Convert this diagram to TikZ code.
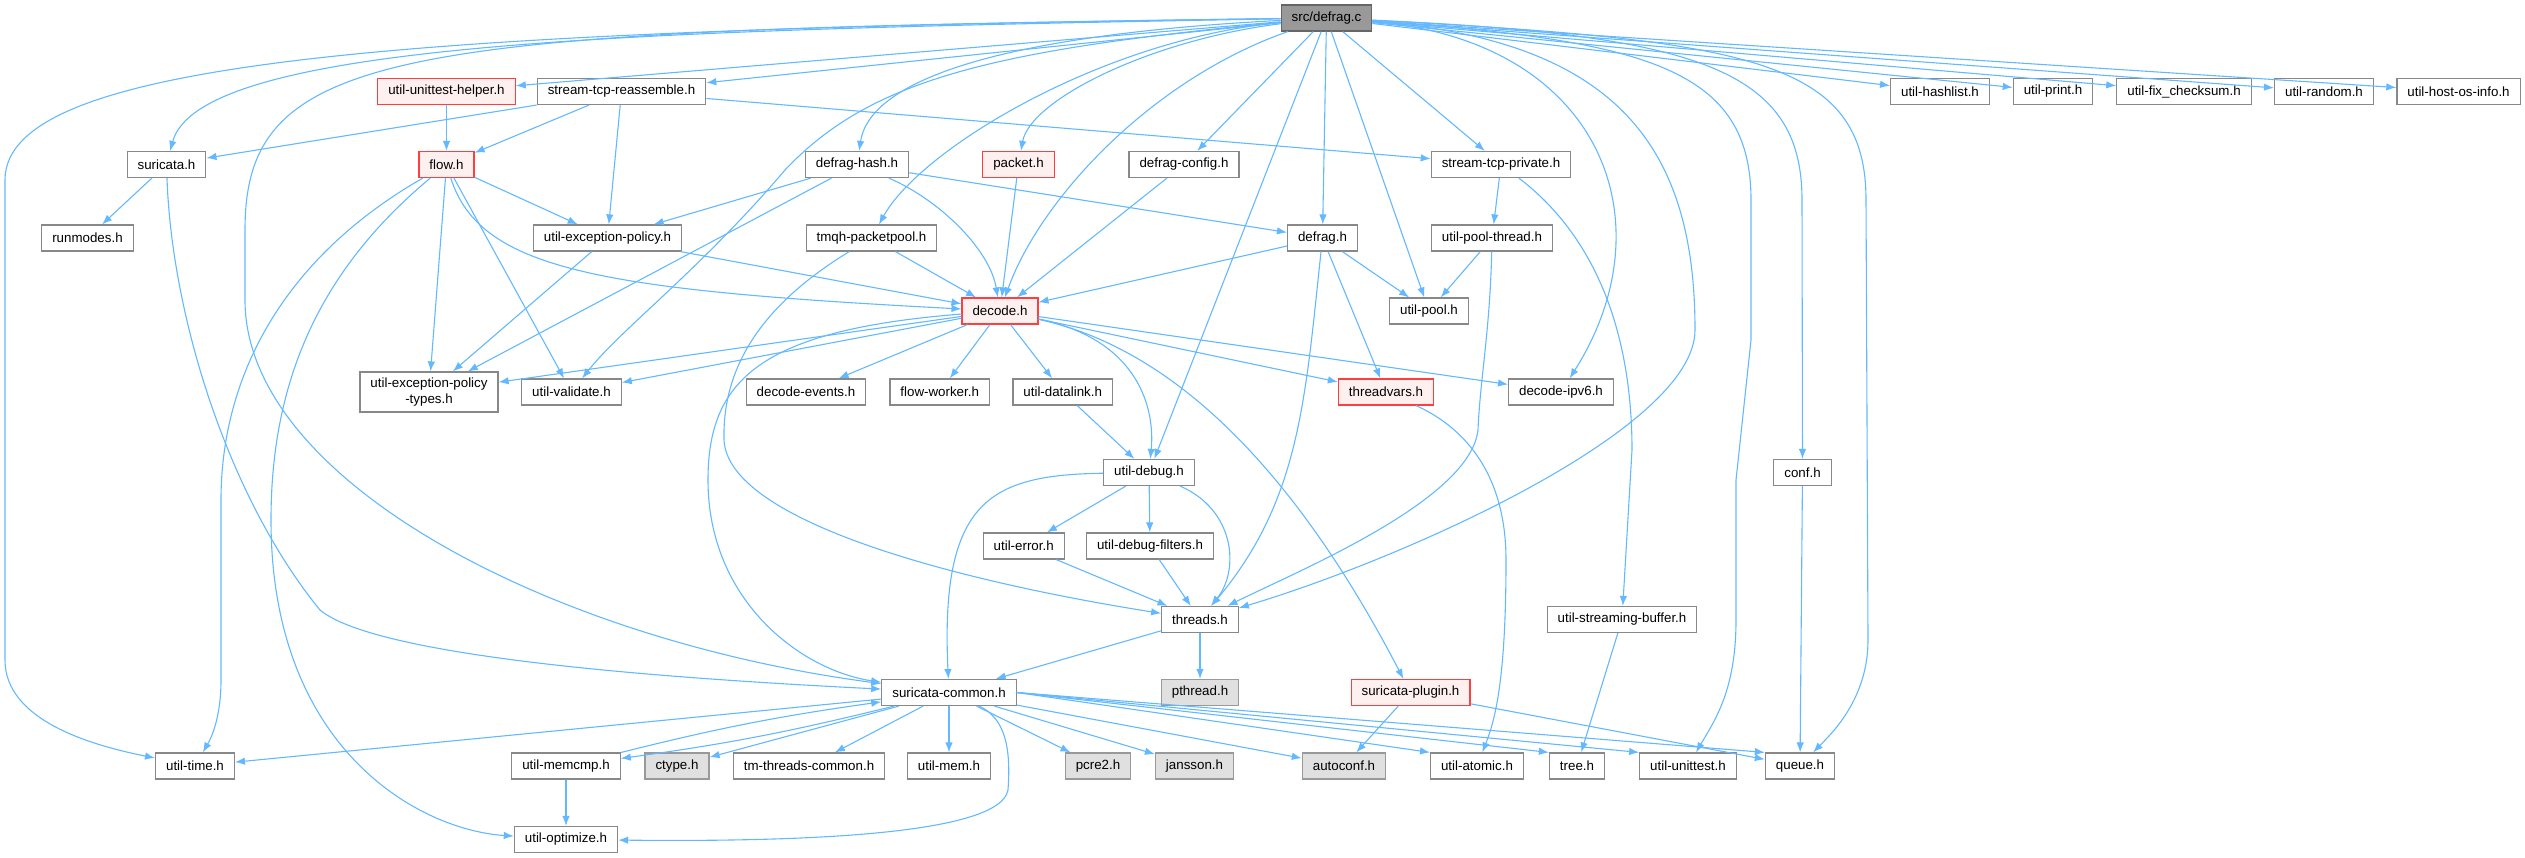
\documentclass[tikz,border=0pt]{standalone}
\usepackage{fontspec}
\setmainfont{Liberation Sans}
\usetikzlibrary{arrows.meta}
\definecolor{edgeblue}{HTML}{63B8FF}
\definecolor{boxgray}{HTML}{888888}
\definecolor{rootfill}{HTML}{999999}
\definecolor{rootline}{HTML}{666666}
\definecolor{truncfill}{HTML}{FFF0F0}
\definecolor{truncline}{HTML}{FF3F3F}
\definecolor{sysfill}{HTML}{E0E0E0}
\definecolor{sysline}{HTML}{999999}
\begin{document}
\begin{tikzpicture}[x=1pt,y=-1pt,
    hdr/.style={draw=boxgray,fill=white,line width=1.2pt,inner xsep=10.5pt,inner ysep=0pt,minimum height=26pt,font=\fontsize{13.33}{15.5}\selectfont},
    rootfile/.style={hdr,draw=rootline,fill=rootfill},
    trunc/.style={hdr,draw=truncline,fill=truncfill},
    sys/.style={hdr,draw=sysline,fill=sysfill},
    dep/.style={draw=edgeblue,line width=1.1pt,-{Latex[length=10pt,width=7.5pt]}}]
        \useasboundingbox (0,0) rectangle (2525,857);

        \node[rootfile] (defragc) at (1326.5,18) {src/defrag.c};
        \node[trunc] (unittesthelper) at (446.5,91.5) {util-unittest-helper.h};
        \node[hdr] (tcpreassemble) at (621.5,91.5) {stream-tcp-reassemble.h};
        \node[hdr] (hashlist) at (1940,91.5) {util-hashlist.h};
        \node[hdr] (print) at (2053,91.5) {util-print.h};
        \node[hdr] (fixchecksum) at (2184,91.5) {util-fix\_checksum.h};
        \node[hdr] (random) at (2324,91.5) {util-random.h};
        \node[hdr] (hostosinfo) at (2458.5,91.5) {util-host-os-info.h};
        \node[hdr] (suricata) at (166.5,164.5) {suricata.h};
        \node[trunc] (flow) at (446.5,164.5) {flow.h};
        \node[hdr] (defraghash) at (857,164.5) {defrag-hash.h};
        \node[trunc] (packet) at (1018.5,164.5) {packet.h};
        \node[hdr] (defragconfig) at (1184,164.5) {defrag-config.h};
        \node[hdr] (tcpprivate) at (1501,164.5) {stream-tcp-private.h};
        \node[hdr] (runmodes) at (87.5,238) {runmodes.h};
        \node[hdr] (excpolicy) at (607.5,238) {util-exception-policy.h};
        \node[hdr] (packetpool) at (871.5,238) {tmqh-packetpool.h};
        \node[hdr] (defragh) at (1322.5,238) {defrag.h};
        \node[hdr] (poolthread) at (1492,238) {util-pool-thread.h};
        \node[trunc] (decode) at (1000,311) {decode.h};
        \node[hdr] (pool) at (1429,311) {util-pool.h};
        \node[hdr,align=center,minimum height=40pt] (excpolicytypes) at (429,392) {util-exception-policy\\-types.h};
        \node[hdr] (validate) at (571.5,392) {util-validate.h};
        \node[hdr] (decodeevents) at (806,392) {decode-events.h};
        \node[hdr] (flowworker) at (939.7,392) {flow-worker.h};
        \node[hdr] (datalink) at (1062.7,392) {util-datalink.h};
        \node[trunc] (threadvars) at (1386,392) {threadvars.h};
        \node[hdr] (decodeipv6) at (1561,392) {decode-ipv6.h};
        \node[hdr] (debug) at (1149,472.5) {util-debug.h};
        \node[hdr] (conf) at (1802.5,472.5) {conf.h};
        \node[hdr] (error) at (1023.7,546) {util-error.h};
        \node[hdr] (debugfilters) at (1150,546) {util-debug-filters.h};
        \node[hdr] (threads) at (1200,619.5) {threads.h};
        \node[hdr] (streambuf) at (1622,619.5) {util-streaming-buffer.h};
        \node[hdr] (common) at (949,692.5) {suricata-common.h};
        \node[sys] (pthread) at (1200,692.5) {pthread.h};
        \node[trunc] (plugin) at (1410.5,692.5) {suricata-plugin.h};
        \node[hdr] (utime) at (195,766) {util-time.h};
        \node[hdr] (memcmp) at (566,766) {util-memcmp.h};
        \node[sys] (ctype) at (677,766) {ctype.h};
        \node[hdr] (tmcommon) at (809,766) {tm-threads-common.h};
        \node[hdr] (mem) at (949,766) {util-mem.h};
        \node[sys] (pcre) at (1098,766) {pcre2.h};
        \node[sys] (jansson) at (1194.5,766) {jansson.h};
        \node[sys] (autoconf) at (1344,766) {autoconf.h};
        \node[hdr] (atomic) at (1477,766) {util-atomic.h};
        \node[hdr] (tree) at (1577,766) {tree.h};
        \node[hdr] (unittest) at (1688,766) {util-unittest.h};
        \node[hdr] (queue) at (1800,766) {queue.h};
        \node[hdr] (optimize) at (566,839.5) {util-optimize.h};

        % includes of src/defrag.c
        \path[draw,dep] (defragc) -- (unittesthelper);
        \path[draw,dep] (defragc) -- (tcpreassemble);
        \path[draw,dep] (defragc) .. controls (650,30) and (200,40) .. (suricata);
        \path[draw,dep] (defragc) .. controls (400,30) and (5,60) .. (5,180) -- (5,660) .. controls (5,720) and (90,745) .. (utime);
        \path[draw,dep] (defragc) .. controls (400,30) and (245,45) .. (245,230) -- (245,300) .. controls (245,480) and (550,640) .. (common);
        \path[draw,dep] (defragc) .. controls (990,50) and (870,80) .. (785,170) .. controls (700,270) and (620,330) .. (validate);
        \path[draw,dep] (defragc) .. controls (1000,35) and (870,80) .. (defraghash);
        \path[draw,dep] (defragc) .. controls (1100,40) and (920,150) .. (packetpool);
        \path[draw,dep] (defragc) .. controls (1150,40) and (1030,100) .. (packet);
        \path[draw,dep] (defragc) .. controls (1150,80) and (1040,200) .. (decode);
        \path[draw,dep] (defragc) -- (defragconfig);
        \path[draw,dep] (defragc) -- (defragh);
        \path[draw,dep] (defragc) -- (debug);
        \path[draw,dep] (defragc) -- (pool);
        \path[draw,dep] (defragc) -- (tcpprivate);
        \path[draw,dep] (defragc) .. controls (1620,40) and (1695,150) .. (1695,330) .. controls (1695,430) and (1400,560) .. (threads);
        \path[draw,dep] (defragc) .. controls (1600,40) and (1670,220) .. (decodeipv6);
        \path[draw,dep] (defragc) .. controls (1650,40) and (1751,70) .. (1751,200) -- (1751,340) -- (1736,480) -- (1736,620) .. controls (1736,690) and (1715,720) .. (unittest);
        \path[draw,dep] (defragc) .. controls (1700,35) and (1802,70) .. (1802,200) -- (conf);
        \path[draw,dep] (defragc) .. controls (1750,40) and (1866,60) .. (1866,200) -- (1868,640) .. controls (1868,700) and (1830,735) .. (queue);
        \path[draw,dep] (defragc) -- (hashlist);
        \path[draw,dep] (defragc) -- (print);
        \path[draw,dep] (defragc) -- (fixchecksum);
        \path[draw,dep] (defragc) -- (random);
        \path[draw,dep] (defragc) -- (hostosinfo);

        \path[draw,dep] (unittesthelper) -- (flow);
        \path[draw,dep] (tcpreassemble) -- (suricata);
        \path[draw,dep] (tcpreassemble) -- (flow);
        \path[draw,dep] (tcpreassemble) -- (excpolicy);
        \path[draw,dep] (tcpreassemble) -- (tcpprivate);
        \path[draw,dep] (suricata) -- (runmodes);
        \path[draw,dep] (suricata) .. controls (172,320) and (230,500) .. (320,610) .. controls (380,660) and (700,680) .. (common);

        \path[draw,dep] (flow) -- (excpolicy);
        \path[draw,dep] (flow) .. controls (480,270) and (600,290) .. (decode);
        \path[draw,dep] (flow) -- (excpolicytypes);
        \path[draw,dep] (flow) -- (validate);
        \path[draw,dep] (flow) .. controls (280,260) and (221,380) .. (221,500) -- (221,680) .. controls (221,720) and (210,740) .. (utime);
        \path[draw,dep] (flow) .. controls (320,270) and (271,380) .. (271,520) .. controls (271,750) and (420,830) .. (optimize);
        \path[draw,dep] (excpolicy) -- (excpolicytypes);
        \path[draw,dep] (excpolicy) -- (decode);

        \path[draw,dep] (defraghash) -- (excpolicy);
        \path[draw,dep] (defraghash) -- (excpolicytypes);
        \path[draw,dep] (defraghash) .. controls (940,200) and (990,250) .. (decode);
        \path[draw,dep] (defraghash) -- (defragh);
        \path[draw,dep] (packetpool) -- (decode);
        \path[draw,dep] (packetpool) .. controls (770,300) and (722,360) .. (724,440) .. controls (728,520) and (950,580) .. (threads);
        \path[draw,dep] (packet) -- (decode);
        \path[draw,dep] (defragconfig) -- (decode);
        \path[draw,dep] (defragh) -- (decode);
        \path[draw,dep] (defragh) -- (pool);
        \path[draw,dep] (defragh) -- (threadvars);
        \path[draw,dep] (defragh) .. controls (1305,400) and (1300,500) .. (threads);
        \path[draw,dep] (tcpprivate) -- (poolthread);
        \path[draw,dep] (tcpprivate) .. controls (1600,240) and (1632,340) .. (1632,450) -- (streambuf);
        \path[draw,dep] (poolthread) -- (pool);
        \path[draw,dep] (poolthread) .. controls (1490,330) and (1480,380) .. (1478,430) .. controls (1470,500) and (1300,570) .. (threads);

        % includes of decode.h
        \path[draw,dep] (decode) -- (excpolicytypes);
        \path[draw,dep] (decode) -- (validate);
        \path[draw,dep] (decode) -- (decodeevents);
        \path[draw,dep] (decode) -- (flowworker);
        \path[draw,dep] (decode) -- (datalink);
        \path[draw,dep] (decode) .. controls (1140,340) and (1155,410) .. (debug);
        \path[draw,dep] (decode) -- (threadvars);
        \path[draw,dep] (decode) -- (decodeipv6);
        \path[draw,dep] (decode) .. controls (1180,350) and (1300,480) .. (plugin);
        \path[draw,dep] (decode) .. controls (760,330) and (708,380) .. (708,480) .. controls (708,600) and (800,670) .. (common);

        \path[draw,dep] (datalink) -- (debug);
        \path[draw,dep] (debug) .. controls (990,475) and (940,500) .. (common);
        \path[draw,dep] (debug) -- (error);
        \path[draw,dep] (debug) -- (debugfilters);
        \path[draw,dep] (debug) .. controls (1235,510) and (1240,570) .. (threads);
        \path[draw,dep] (error) -- (threads);
        \path[draw,dep] (debugfilters) -- (threads);
        \path[draw,dep] (threadvars) .. controls (1470,430) and (1506,480) .. (1506,560) .. controls (1506,680) and (1495,720) .. (atomic);
        \path[draw,dep] (conf) -- (queue);
        \path[draw,dep] (streambuf) -- (tree);
        \path[draw,dep] (threads) -- (common);
        \path[draw,dep] (threads) -- (pthread);
        \path[draw,dep] (plugin) -- (autoconf);
        \path[draw,dep] (plugin) -- (queue);

        % includes of suricata-common.h
        \path[draw,dep] (common) -- (utime);
        \path[draw,dep] (common) to[bend left=3] (memcmp);
        \path[draw,dep] (memcmp) to[bend left=3] (common);
        \path[draw,dep] (common) -- (ctype);
        \path[draw,dep] (common) -- (tmcommon);
        \path[draw,dep] (common) -- (mem);
        \path[draw,dep] (common) -- (pcre);
        \path[draw,dep] (common) -- (jansson);
        \path[draw,dep] (common) -- (autoconf);
        \path[draw,dep] (common.east) -- (atomic.north west);
        \path[draw,dep] (common.east) -- (tree.north west);
        \path[draw,dep] (common.east) -- (unittest.north west);
        \path[draw,dep] (common.east) -- (queue.north west);
        \path[draw,dep] (common) .. controls (1010,720) and (1010,760) .. (1008,790) .. controls (1000,835) and (800,842) .. (optimize);
        \path[draw,dep] (memcmp) -- (optimize);
    \end{tikzpicture}
\end{document}
